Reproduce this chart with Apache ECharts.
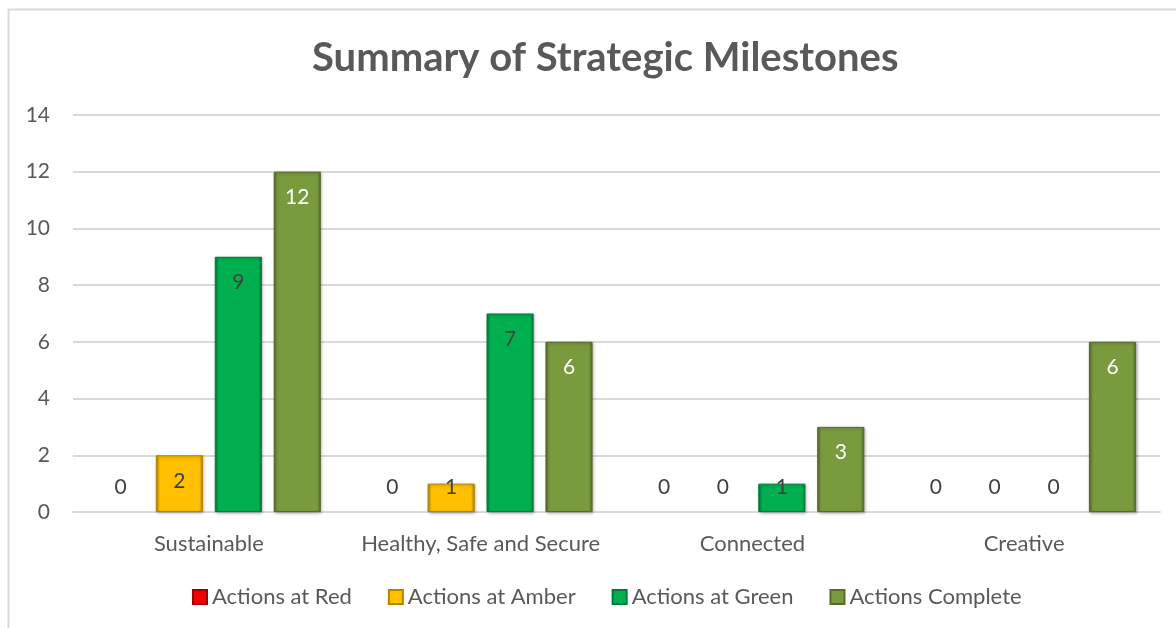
<!DOCTYPE html>
<html>
<head>
<meta charset="utf-8">
<script src="https://cdn.jsdelivr.net/npm/echarts@6/dist/echarts.min.js"></script>
<style>
  html, body { margin: 0; padding: 0; background: #fff; }
  #chart { width: 1176px; height: 628px; }
</style>
</head>
<body>
<div id="chart"></div>
<script>
var categories = ['Sustainable', 'Healthy, Safe and Secure', 'Connected', 'Creative'];
var seriesNames = ['Actions at Red', 'Actions at Amber', 'Actions at Green', 'Actions Complete'];
var redValues = [0, 0, 0, 0];
var amberValues = [2, 1, 0, 0];
var greenValues = [9, 7, 1, 0];
var completeValues = [12, 6, 3, 6];

var FONT = 'Lato, "Open Sans", sans-serif';
var TEXT = '#595959';

var fills = ['#F00000', '#FFC000', '#00B050', '#7A9A3E'];
var edges = ['#A00000', '#B08400', '#007A38', '#556B2A'];
var labelColors = ['#404040', '#404040', '#404040', '#ffffff'];

function bevel(c, e) {
    return new echarts.graphic.LinearGradient(0, 0, 1, 0, [
        { offset: 0, color: e },
        { offset: 0.08, color: c },
        { offset: 0.92, color: c },
        { offset: 1, color: e }
    ]);
}

function labelFor(idx, v) {
    if (v === 0) return { position: 'top', distance: 14, color: '#404040' };
    // short bars: Excel lets the inside-end label stick out over the top
    if (v === 1) return { position: 'top', distance: -14, color: labelColors[idx] };
    return { position: 'insideTop', distance: 15, color: labelColors[idx] };
}

function makeSeries(idx, values) {
    return {
        name: seriesNames[idx],
        type: 'bar',
        barGap: '25%',
        barCategoryGap: '17.6%',
        itemStyle: {
            color: bevel(fills[idx], edges[idx]),
            borderColor: edges[idx],
            borderWidth: 1,
            shadowColor: 'rgba(0,0,0,0.3)',
            shadowBlur: 3,
            shadowOffsetX: 1,
            shadowOffsetY: 1
        },
        data: values.map(function (v) {
            var item = { value: v, label: labelFor(idx, v) };
            if (v === 0) {
                item.itemStyle = { color: 'transparent', borderColor: 'transparent', borderWidth: 0, shadowColor: 'transparent' };
            }
            return item;
        }),
        label: {
            show: true,
            fontFamily: FONT,
            fontSize: 21
        }
    };
}

var chart = echarts.init(document.getElementById('chart'));
chart.setOption({
    animation: false,
    textStyle: { fontFamily: FONT },
    title: {
        text: 'Summary of Strategic Milestones',
        left: 307,
        top: 33,
        textStyle: { color: TEXT, fontSize: 40, fontWeight: 'bold', fontFamily: FONT }
    },
    graphic: [
        { type: 'line', shape: { x1: 8.5, y1: 9, x2: 8.5, y2: 628 }, style: { stroke: '#D9D9D9', lineWidth: 2 } },
        { type: 'line', shape: { x1: 8, y1: 9.5, x2: 1176, y2: 9.5 }, style: { stroke: '#D9D9D9', lineWidth: 2 } }
    ],
    legend: {
        bottom: 15,
        left: 187,
        icon: 'rect',
        itemWidth: 14,
        itemHeight: 14,
        itemGap: 36,
        textStyle: { color: TEXT, fontSize: 22, fontFamily: FONT },
        data: seriesNames
    },
    grid: { left: 73, right: 16, top: 115, bottom: 116 },
    xAxis: {
        type: 'category',
        data: categories,
        axisLine: { lineStyle: { color: '#D9D9D9', width: 2 } },
        axisTick: { show: false },
        axisLabel: { color: TEXT, fontSize: 22, margin: 21, interval: 0, fontFamily: FONT }
    },
    yAxis: {
        type: 'value',
        min: 0,
        max: 14,
        interval: 2,
        axisLine: { show: false },
        axisTick: { show: false },
        splitLine: { lineStyle: { color: '#D9D9D9', width: 2 } },
        axisLabel: { color: TEXT, fontSize: 21, margin: 23, fontFamily: FONT }
    },
    series: [
        makeSeries(0, redValues),
        makeSeries(1, amberValues),
        makeSeries(2, greenValues),
        makeSeries(3, completeValues)
    ]
});
</script>
</body>
</html>
